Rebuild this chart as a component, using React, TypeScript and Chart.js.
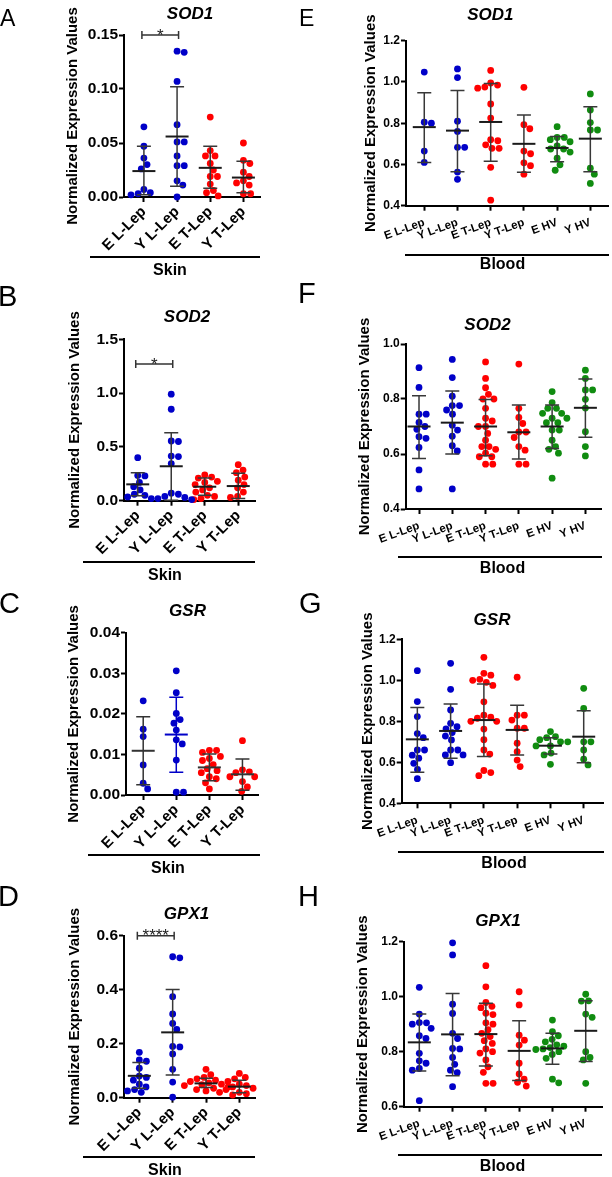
import React, { useEffect, useRef } from 'react';
import { Chart, registerables } from 'chart.js';
Chart.register(...registerables);

const FONT = "'Liberation Sans', Arial, Helvetica, sans-serif";
Chart.defaults.font.family = FONT;

const skinCategories = ['E L-Lep', 'Y L-Lep', 'E T-Lep', 'Y T-Lep'];
const bloodCategories = ['E L-Lep', 'Y L-Lep', 'E T-Lep', 'Y T-Lep', 'E HV', 'Y HV'];

const BLUE = '#0000c8';
const RED = '#ff0000';
const GREEN = '#108c10';
const skinColors = [BLUE, BLUE, RED, RED];
const bloodColors = [BLUE, BLUE, RED, RED, GREEN, GREEN];

// ---- A: Skin SOD1
const skinSOD1 = [
  [0.065, 0.047, 0.036, 0.030, 0.026, 0.007, 0.004, 0.003, 0.002],
  [0.135, 0.134, 0.107, 0.067, 0.051, 0.051, 0.038, 0.029, 0.029, 0.015, 0.011, 0.000],
  [0.074, 0.043, 0.038, 0.038, 0.031, 0.025, 0.019, 0.019, 0.012, 0.006, 0.004, 0.001],
  [0.050, 0.034, 0.031, 0.023, 0.019, 0.015, 0.013, 0.011, 0.003, 0.003],
];
const skinSOD1Mean = [0.024, 0.056, 0.027, 0.018];
const skinSOD1Upper = [0.047, 0.102, 0.047, 0.033];
const skinSOD1Lower = [0.002, 0.010, 0.008, 0.004];
const skinSOD1Ticks = ['0.00', '0.05', '0.10', '0.15'];

// ---- B: Skin SOD2
const skinSOD2 = [
  [0.40, 0.235, 0.23, 0.17, 0.13, 0.10, 0.06, 0.05, 0.035, 0.02],
  [0.99, 0.85, 0.555, 0.55, 0.415, 0.41, 0.345, 0.07, 0.06, 0.04, 0.03, 0.02, 0.01],
  [0.24, 0.22, 0.21, 0.18, 0.17, 0.15, 0.12, 0.10, 0.08, 0.05, 0.04, 0.02, 0.01],
  [0.335, 0.285, 0.26, 0.22, 0.19, 0.15, 0.12, 0.08, 0.04, 0.03],
];
const skinSOD2Mean = [0.152, 0.32, 0.13, 0.136];
const skinSOD2Upper = [0.26, 0.632, 0.21, 0.254];
const skinSOD2Lower = [0.045, 0.005, 0.05, 0.02];
const skinSOD2Ticks = ['0.0', '0.5', '1.0', '1.5'];

// ---- C: Skin GSR
const skinGSR = [
  [0.0232, 0.0162, 0.0144, 0.0074, 0.0029, 0.0015],
  [0.0306, 0.0252, 0.0201, 0.0186, 0.0177, 0.0160, 0.0136, 0.0126, 0.0086, 0.0007, 0.0007],
  [0.011, 0.011, 0.0105, 0.0095, 0.009, 0.0085, 0.0075, 0.0065, 0.006, 0.0055, 0.0045, 0.004, 0.003, 0.0015],
  [0.0134, 0.0062, 0.0057, 0.0055, 0.0045, 0.0045, 0.0033, 0.002, 0.0009],
];
const skinGSRMean = [0.0109, 0.0149, 0.0068, 0.0051];
const skinGSRUpper = [0.0193, 0.0241, 0.0101, 0.0089];
const skinGSRLower = [0.0025, 0.0056, 0.0035, 0.0012];
const skinGSRTicks = ['0.00', '0.01', '0.02', '0.03', '0.04'];
const skinGSRBarColors = ['#333', BLUE, '#333', '#333'];

// ---- D: Skin GPX1
const skinGPX1 = [
  [0.168, 0.14, 0.135, 0.109, 0.08, 0.075, 0.065, 0.05, 0.04, 0.03, 0.025, 0.02],
  [0.522, 0.518, 0.374, 0.31, 0.275, 0.253, 0.19, 0.188, 0.162, 0.105, 0.058, 0.002],
  [0.105, 0.085, 0.075, 0.07, 0.065, 0.06, 0.055, 0.05, 0.048, 0.045, 0.04, 0.035, 0.03, 0.025, 0.02],
  [0.09, 0.075, 0.07, 0.06, 0.05, 0.045, 0.04, 0.035, 0.03, 0.02, 0.015, 0.01],
];
const skinGPX1Mean = [0.081, 0.242, 0.053, 0.041];
const skinGPX1Upper = [0.13, 0.401, 0.072, 0.065];
const skinGPX1Lower = [0.035, 0.084, 0.038, 0.018];
const skinGPX1Ticks = ['0.0', '0.2', '0.4', '0.6'];

// ---- E: Blood SOD1
const bloodSOD1 = [
  [1.048, 0.805, 0.80, 0.665, 0.61],
  [1.063, 1.021, 0.81, 0.76, 0.683, 0.683, 0.563, 0.528],
  [1.056, 0.995, 0.985, 0.975, 0.97, 0.893, 0.825, 0.72, 0.715, 0.695, 0.678, 0.678, 0.586, 0.427],
  [0.974, 0.793, 0.773, 0.665, 0.652, 0.608, 0.594, 0.553],
  [0.783, 0.731, 0.731, 0.72, 0.71, 0.69, 0.675, 0.675, 0.66, 0.63, 0.598, 0.572],
  [0.942, 0.864, 0.803, 0.767, 0.767, 0.582, 0.553, 0.508],
];
const bloodSOD1Mean = [0.781, 0.764, 0.806, 0.70, 0.68, 0.725];
const bloodSOD1Upper = [0.948, 0.959, 0.993, 0.84, 0.735, 0.88];
const bloodSOD1Lower = [0.61, 0.565, 0.615, 0.562, 0.613, 0.565];
const bloodSOD1Ticks = ['0.4', '0.6', '0.8', '1.0', '1.2'];

// ---- F: Blood SOD2
const bloodSOD2 = [
  [0.914, 0.842, 0.745, 0.745, 0.715, 0.70, 0.69, 0.663, 0.657, 0.624, 0.542, 0.473],
  [0.944, 0.878, 0.81, 0.776, 0.776, 0.76, 0.745, 0.705, 0.687, 0.665, 0.63, 0.611, 0.473],
  [0.935, 0.875, 0.841, 0.817, 0.80, 0.80, 0.766, 0.73, 0.72, 0.70, 0.70, 0.675, 0.65, 0.627, 0.627, 0.617, 0.603, 0.59, 0.59, 0.563, 0.563],
  [0.927, 0.766, 0.733, 0.711, 0.68, 0.68, 0.66, 0.627, 0.614, 0.563, 0.563],
  [0.827, 0.787, 0.766, 0.766, 0.748, 0.748, 0.73, 0.73, 0.714, 0.714, 0.687, 0.687, 0.65, 0.627, 0.617, 0.603, 0.512],
  [0.905, 0.875, 0.833, 0.833, 0.799, 0.767, 0.681, 0.627, 0.593],
];
const bloodSOD2Mean = [0.70, 0.714, 0.70, 0.679, 0.70, 0.768];
const bloodSOD2Upper = [0.812, 0.829, 0.798, 0.778, 0.778, 0.873];
const bloodSOD2Lower = [0.584, 0.60, 0.594, 0.582, 0.62, 0.661];
const bloodSOD2Ticks = ['0.4', '0.6', '0.8', '1.0'];

// ---- G: Blood GSR
const bloodGSR = [
  [1.047, 0.896, 0.823, 0.74, 0.72, 0.66, 0.66, 0.635, 0.62, 0.595, 0.565, 0.52],
  [1.083, 0.956, 0.855, 0.79, 0.774, 0.763, 0.745, 0.728, 0.709, 0.66, 0.66, 0.636, 0.636, 0.598],
  [1.112, 1.034, 1.025, 1.005, 1.0, 0.99, 0.975, 0.895, 0.83, 0.82, 0.815, 0.80, 0.80, 0.762, 0.71, 0.66, 0.64, 0.56, 0.55, 0.535],
  [1.015, 0.83, 0.83, 0.806, 0.766, 0.766, 0.693, 0.652, 0.611, 0.579],
  [0.75, 0.725, 0.72, 0.71, 0.70, 0.70, 0.68, 0.68, 0.645, 0.636, 0.59],
  [0.961, 0.863, 0.70, 0.70, 0.66, 0.615, 0.587],
];
const bloodGSRMean = [0.712, 0.753, 0.806, 0.758, 0.681, 0.725];
const bloodGSRUpper = [0.867, 0.885, 0.982, 0.878, 0.72, 0.852];
const bloodGSRLower = [0.551, 0.62, 0.628, 0.636, 0.64, 0.598];
const bloodGSRTicks = ['0.4', '0.6', '0.8', '1.0', '1.2'];

// ---- H: Blood GPX1
const bloodGPX1 = [
  [1.034, 0.937, 0.906, 0.905, 0.90, 0.885, 0.858, 0.848, 0.794, 0.767, 0.758, 0.739, 0.733, 0.622],
  [1.196, 1.152, 0.973, 0.939, 0.867, 0.848, 0.812, 0.81, 0.779, 0.754, 0.733, 0.724, 0.673],
  [1.113, 1.036, 0.979, 0.965, 0.96, 0.94, 0.935, 0.905, 0.9, 0.88, 0.867, 0.855, 0.84, 0.83, 0.81, 0.8, 0.795, 0.77, 0.745, 0.725, 0.685, 0.685],
  [1.018, 0.97, 0.86, 0.842, 0.824, 0.758, 0.719, 0.70, 0.689, 0.675],
  [0.915, 0.873, 0.858, 0.845, 0.836, 0.825, 0.82, 0.815, 0.81, 0.808, 0.80, 0.79, 0.776, 0.70, 0.687],
  [1.009, 0.985, 0.984, 0.937, 0.925, 0.80, 0.779, 0.77, 0.685],
];
const bloodGPX1Mean = [0.834, 0.863, 0.864, 0.803, 0.812, 0.876];
const bloodGPX1Upper = [0.937, 1.012, 0.976, 0.913, 0.867, 0.985];
const bloodGPX1Lower = [0.73, 0.713, 0.748, 0.695, 0.754, 0.764];
const bloodGPX1Ticks = ['0.6', '0.8', '1.0', '1.2'];

const Y_TITLE = 'Normalized Expression Values';
const DOT = 3.4;

type Box = { left: number; top: number; w: number; h: number };
type Area = { L: number; T: number; R: number; B: number };
type Cfg = {
  id: string; letter: string; title: string; tissue: string; skin: boolean;
  cats: string[]; colors: string[]; values: number[][];
  mean: number[]; upper: number[]; lower: number[]; barColors?: string[];
  ticks: string[]; xMin: number; xMax: number;
  canvas: Box; area: Area; ylabelX: number;
  bracket?: { from: number; to: number; value: number; text: string };
  letterPos: { x: number; y: number; size: number };
  titlePos: { x: number; y: number };
  line: { x1: number; x2: number; y: number };
  tissuePos: { x: number; y: number };
};

const panels: Cfg[] = [
  {
    id: 'A', letter: 'A', title: 'SOD1', tissue: 'Skin', skin: true,
    cats: skinCategories, colors: skinColors, values: skinSOD1,
    mean: skinSOD1Mean, upper: skinSOD1Upper, lower: skinSOD1Lower, ticks: skinSOD1Ticks,
    xMin: -0.6, xMax: 3.5,
    canvas: { left: 0, top: 0, w: 300, h: 285 }, area: { L: 124, T: 35, R: 260, B: 197 }, ylabelX: 72.5,
    bracket: { from: 0, to: 1, value: 0.15, text: '*' },
    letterPos: { x: 0, y: 18, size: 23 }, titlePos: { x: 190, y: 12.5 },
    line: { x1: 90, x2: 260, y: 257 }, tissuePos: { x: 170, y: 270 },
  },
  {
    id: 'B', letter: 'B', title: 'SOD2', tissue: 'Skin', skin: true,
    cats: skinCategories, colors: skinColors, values: skinSOD2,
    mean: skinSOD2Mean, upper: skinSOD2Upper, lower: skinSOD2Lower, ticks: skinSOD2Ticks,
    xMin: -0.41, xMax: 3.5,
    canvas: { left: 0, top: 290, w: 300, h: 285 }, area: { L: 124, T: 339.3, R: 255, B: 500.7 }, ylabelX: 75,
    bracket: { from: 0, to: 1, value: 1.27, text: '*' },
    letterPos: { x: -2, y: 296, size: 29 }, titlePos: { x: 187, y: 316 },
    line: { x1: 83, x2: 255, y: 561.7 }, tissuePos: { x: 165, y: 574.5 },
  },
  {
    id: 'C', letter: 'C', title: 'GSR', tissue: 'Skin', skin: true,
    cats: skinCategories, colors: skinColors, values: skinGSR, barColors: skinGSRBarColors,
    mean: skinGSRMean, upper: skinGSRUpper, lower: skinGSRLower, ticks: skinGSRTicks,
    xMin: -0.52, xMax: 3.47,
    canvas: { left: 0, top: 580, w: 300, h: 285 }, area: { L: 126, T: 632.7, R: 258, B: 795 }, ylabelX: 73.5,
    letterPos: { x: -1, y: 603, size: 29 }, titlePos: { x: 187.5, y: 609.5 },
    line: { x1: 88, x2: 260, y: 855 }, tissuePos: { x: 168, y: 868 },
  },
  {
    id: 'D', letter: 'D', title: 'GPX1', tissue: 'Skin', skin: true,
    cats: skinCategories, colors: skinColors, values: skinGPX1,
    mean: skinGPX1Mean, upper: skinGPX1Upper, lower: skinGPX1Lower, ticks: skinGPX1Ticks,
    xMin: -0.46, xMax: 3.47,
    canvas: { left: 0, top: 870, w: 300, h: 307 }, area: { L: 124, T: 935.7, R: 255, B: 1097.7 }, ylabelX: 75,
    bracket: { from: 0, to: 1, value: 0.6, text: '****' },
    letterPos: { x: -2, y: 896, size: 29 }, titlePos: { x: 186.5, y: 912.5 },
    line: { x1: 83, x2: 255, y: 1156.7 }, tissuePos: { x: 165, y: 1170 },
  },
  {
    id: 'E', letter: 'E', title: 'SOD1', tissue: 'Blood', skin: false,
    cats: bloodCategories, colors: bloodColors, values: bloodSOD1,
    mean: bloodSOD1Mean, upper: bloodSOD1Upper, lower: bloodSOD1Lower, ticks: bloodSOD1Ticks,
    xMin: -0.55, xMax: 5.55,
    canvas: { left: 300, top: 0, w: 312, h: 285 }, area: { L: 406, T: 40.7, R: 609, B: 205.7 }, ylabelX: 371,
    letterPos: { x: 299, y: 17.5, size: 23 }, titlePos: { x: 490.3, y: 14 },
    line: { x1: 405, x2: 609, y: 255 }, tissuePos: { x: 502.5, y: 264 },
  },
  {
    id: 'F', letter: 'F', title: 'SOD2', tissue: 'Blood', skin: false,
    cats: bloodCategories, colors: bloodColors, values: bloodSOD2,
    mean: bloodSOD2Mean, upper: bloodSOD2Upper, lower: bloodSOD2Lower, ticks: bloodSOD2Ticks,
    xMin: -0.4, xMax: 5.49,
    canvas: { left: 300, top: 290, w: 312, h: 285 }, area: { L: 405.7, T: 344, R: 601.7, B: 509 }, ylabelX: 365,
    letterPos: { x: 298, y: 293, size: 29 }, titlePos: { x: 487.5, y: 323.5 },
    line: { x1: 398, x2: 602, y: 556.7 }, tissuePos: { x: 502.5, y: 567.5 },
  },
  {
    id: 'G', letter: 'G', title: 'GSR', tissue: 'Blood', skin: false,
    cats: bloodCategories, colors: bloodColors, values: bloodGSR,
    mean: bloodGSRMean, upper: bloodGSRUpper, lower: bloodGSRLower, ticks: bloodGSRTicks,
    xMin: -0.47, xMax: 5.58,
    canvas: { left: 300, top: 580, w: 312, h: 285 }, area: { L: 401.7, T: 639.3, R: 603, B: 803.3 }, ylabelX: 367.5,
    letterPos: { x: 299, y: 602.5, size: 29 }, titlePos: { x: 492, y: 618.5 },
    line: { x1: 398, x2: 604, y: 851.7 }, tissuePos: { x: 504, y: 862.5 },
  },
  {
    id: 'H', letter: 'H', title: 'GPX1', tissue: 'Blood', skin: false,
    cats: bloodCategories, colors: bloodColors, values: bloodGPX1,
    mean: bloodGPX1Mean, upper: bloodGPX1Upper, lower: bloodGPX1Lower, ticks: bloodGPX1Ticks,
    xMin: -0.46, xMax: 5.51,
    canvas: { left: 300, top: 870, w: 312, h: 307 }, area: { L: 404, T: 941.7, R: 602.7, B: 1106.7 }, ylabelX: 363,
    letterPos: { x: 298, y: 896, size: 29 }, titlePos: { x: 498, y: 920 },
    line: { x1: 398, x2: 602, y: 1155 }, tissuePos: { x: 502.5, y: 1166 },
  },
];

// beeswarm layout: horizontal pixel offsets so that dots do not overlap
function swarm(vals: number[], toPx: (v: number) => number, d: number): number[] {
  const order = vals.map((_, i) => i).sort((a, b) => vals[b] - vals[a]);
  const placed: { x: number; y: number }[] = [];
  const out = new Array(vals.length).fill(0);
  for (const i of order) {
    const y = toPx(vals[i]);
    const near = placed.filter((p) => Math.abs(p.y - y) < d);
    const cands = [0];
    near.forEach((p) => {
      const dx = Math.sqrt(d * d - (p.y - y) * (p.y - y));
      cands.push(p.x + dx, p.x - dx);
    });
    cands.sort((a, b) => Math.abs(a) - Math.abs(b));
    const x = cands.find((c) => near.every((p) => (p.x - c) ** 2 + (p.y - y) ** 2 >= d * d - 0.01)) ?? 0;
    placed.push({ x, y });
    out[i] = x;
  }
  return out;
}

function barsPlugin(c: Cfg) {
  return {
    id: 'bars' + c.id,
    afterDatasetsDraw(chart: any) {
      const { ctx } = chart;
      const x = chart.scales.x;
      const y = chart.scales.y;
      ctx.save();
      ctx.lineCap = 'butt';
      c.mean.forEach((m: number, i: number) => {
        const px = x.getPixelForValue(i);
        const yu = y.getPixelForValue(c.upper[i]);
        const yl = y.getPixelForValue(c.lower[i]);
        const ym = y.getPixelForValue(m);
        ctx.strokeStyle = c.barColors ? c.barColors[i] : '#383838';
        ctx.lineWidth = 1.5;
        ctx.beginPath();
        ctx.moveTo(px, yu); ctx.lineTo(px, yl);
        ctx.moveTo(px - 7, yu); ctx.lineTo(px + 7, yu);
        ctx.moveTo(px - 7, yl); ctx.lineTo(px + 7, yl);
        ctx.stroke();
        ctx.strokeStyle = c.barColors ? c.barColors[i] : '#1a1a1a';
        ctx.lineWidth = 2;
        ctx.beginPath();
        ctx.moveTo(px - 11.5, ym); ctx.lineTo(px + 11.5, ym);
        ctx.stroke();
      });
      if (c.bracket) {
        const b = c.bracket;
        const x1 = x.getPixelForValue(b.from) - 2;
        const x2 = x.getPixelForValue(b.to) + 1.5;
        const yy = y.getPixelForValue(b.value);
        ctx.strokeStyle = '#333';
        ctx.lineWidth = 1.5;
        ctx.beginPath();
        ctx.moveTo(x1, yy); ctx.lineTo(x2, yy);
        ctx.moveTo(x1, yy - 4); ctx.lineTo(x1, yy + 4);
        ctx.moveTo(x2, yy - 4); ctx.lineTo(x2, yy + 4);
        ctx.stroke();
        ctx.fillStyle = '#222';
        ctx.font = `17px ${FONT}`;
        ctx.textAlign = 'center';
        ctx.textBaseline = 'alphabetic';
        ctx.fillText(b.text, (x1 + x2) / 2, yy + 5.5);
      }
      ctx.restore();
    },
  };
}

function Panel({ cfg }: { cfg: Cfg }) {
  const ref = useRef<HTMLCanvasElement>(null);
  useEffect(() => {
    const c = cfg;
    const cv = c.canvas;
    const area = c.area;
    const yTicks = c.ticks.map(Number);
    const yMin = yTicks[0];
    const yMax = yTicks[yTicks.length - 1];
    const plotH = area.B - area.T;
    const spacing = (area.R - area.L) / (c.xMax - c.xMin);
    const datasets = c.values.map((vals, i) => {
      const offs = swarm(vals, (v) => ((v - yMin) / (yMax - yMin)) * plotH, DOT * 2 + 0.4);
      return {
        data: vals.map((v, k) => ({ x: i + offs[k] / spacing, y: v })),
        backgroundColor: c.colors[i],
        borderWidth: 0,
        pointRadius: DOT,
        pointHoverRadius: DOT,
        clip: false as any,
      };
    });
    const padL = c.ylabelX - 9 - cv.left;
    const gridOpts = { drawOnChartArea: false, drawTicks: true, tickLength: 5, tickWidth: 2, color: '#000' };
    const borderOpts = { display: true, color: '#000', width: 2 };
    const chart = new Chart(ref.current as HTMLCanvasElement, {
      type: 'scatter',
      data: { datasets: datasets as any },
      options: {
        animation: false,
        responsive: false,
        devicePixelRatio: 1,
        events: [],
        layout: { padding: { left: padL, top: area.T - cv.top, right: cv.left + cv.w - area.R, bottom: 0 } },
        plugins: { legend: { display: false }, tooltip: { enabled: false } },
        scales: {
          x: {
            type: 'linear',
            min: c.xMin,
            max: c.xMax,
            afterBuildTicks: (s: any) => { s.ticks = c.cats.map((_, i) => ({ value: i })); },
            afterFit: (s: any) => { s.height = cv.top + cv.h - area.B; },
            ticks: {
              autoSkip: false,
              minRotation: c.skin ? 45 : 20,
              maxRotation: c.skin ? 45 : 20,
              padding: c.skin ? 1 : 5,
              color: '#000',
              font: { family: FONT, size: c.skin ? 15 : 11.5, weight: 'bold' },
              callback: (_v: any, i: number) => c.cats[i],
            },
            grid: gridOpts,
            border: borderOpts,
          } as any,
          y: {
            type: 'linear',
            min: yMin,
            max: yMax,
            afterBuildTicks: (s: any) => { s.ticks = yTicks.map((v) => ({ value: v })); },
            afterFit: (s: any) => { s.width = area.L - cv.left - padL; },
            ticks: {
              padding: 1,
              color: '#000',
              font: { family: FONT, size: c.skin ? 15.5 : 12, weight: 'bold' },
              callback: (_v: any, i: number) => c.ticks[i],
            },
            grid: gridOpts,
            border: borderOpts,
            title: {
              display: true,
              text: Y_TITLE,
              color: '#000',
              font: { family: FONT, size: 15, weight: 'bold' },
              padding: 0,
            },
          } as any,
        },
      },
      plugins: [barsPlugin(c)],
    });
    return () => chart.destroy();
  }, [cfg]);
  return (
    <canvas
      ref={ref}
      width={cfg.canvas.w}
      height={cfg.canvas.h}
      style={{ position: 'absolute', left: cfg.canvas.left, top: cfg.canvas.top, width: cfg.canvas.w, height: cfg.canvas.h }}
    />
  );
}

function Txt(props: { x: number; y: number; size: number; center?: boolean; bold?: boolean; italic?: boolean; children: React.ReactNode }) {
  return (
    <div
      style={{
        position: 'absolute',
        left: props.x,
        top: props.y,
        transform: `translate(${props.center ? '-50%' : '0'}, -50%)`,
        fontFamily: FONT,
        fontSize: props.size,
        lineHeight: 1,
        fontWeight: props.bold ? 'bold' : 'normal',
        fontStyle: props.italic ? 'italic' : 'normal',
        whiteSpace: 'nowrap',
        color: '#000',
      }}
    >
      {props.children}
    </div>
  );
}

export default function App() {
  return (
    <div style={{ position: 'absolute', left: 0, top: 0, width: 612, height: 1177, background: '#fff', overflow: 'hidden' }}>
      {panels.map((p) => (
        <Panel key={p.id} cfg={p} />
      ))}
      {panels.map((p) => (
        <React.Fragment key={'t' + p.id}>
          <Txt x={p.letterPos.x} y={p.letterPos.y} size={p.letterPos.size}>{p.letter}</Txt>
          <Txt x={p.titlePos.x} y={p.titlePos.y} size={17} center bold italic>{p.title}</Txt>
          <div style={{ position: 'absolute', left: p.line.x1, top: p.line.y - 1, width: p.line.x2 - p.line.x1, height: 2, background: '#000' }} />
          <Txt x={p.tissuePos.x} y={p.tissuePos.y} size={16} center bold>{p.tissue}</Txt>
        </React.Fragment>
      ))}
    </div>
  );
}
